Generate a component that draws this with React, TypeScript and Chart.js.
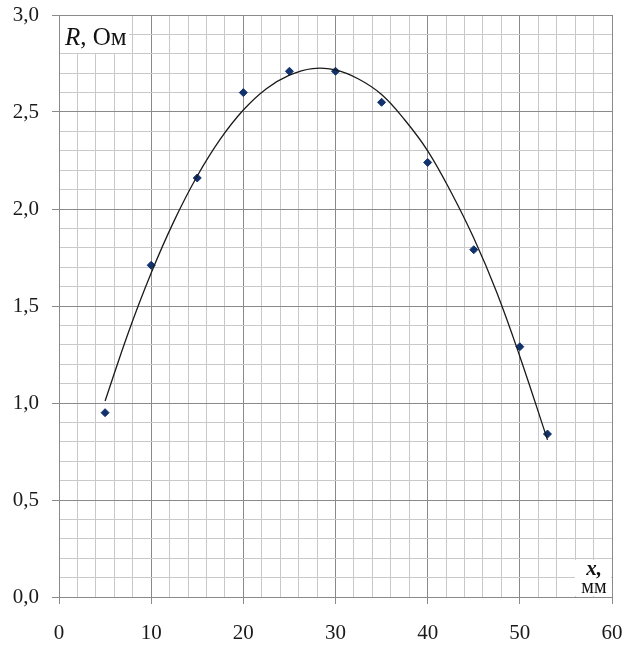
import React, { useEffect, useRef } from 'react';
import { Chart, registerables } from 'chart.js';

Chart.register(...registerables);

// measured points: position x (mm) and resistance R (Ohm)
const xValues = [5, 10, 15, 20, 25, 30, 35, 40, 45, 50, 53];
const rValues = [0.95, 1.71, 2.16, 2.6, 2.71, 2.71, 2.55, 2.24, 1.79, 1.29, 0.84];

// trend curve
const trendX = [5, 7.5, 10, 12.5, 15, 17.5, 20, 22.5, 25, 27.5, 30, 32.5, 35, 37.5, 40, 42.5, 45, 47.5, 50, 53];
const trendR = [1.01, 1.36, 1.67, 1.94, 2.17, 2.36, 2.51, 2.62, 2.69, 2.724, 2.717, 2.67, 2.59, 2.46, 2.3, 2.09, 1.85, 1.57, 1.24, 0.81];

const xMin = 0;
const xMax = 60;
const xStep = 2;
const xMajor = 10;
const yMin = 0;
const yMax = 3;
const yStep = 0.1;
const yMajor = 0.5;

const isMajor = (v: number, m: number) => Math.abs(v / m - Math.round(v / m)) < 1e-6;

const MINOR = '#c9c9c9';
const MAJOR = '#8a8a8a';
const FONT = '"Liberation Serif", "Times New Roman", serif';

const titlesPlugin = {
  id: 'axisTitles',
  beforeDatasetsDraw(chart: any) {
    const { ctx, chartArea: a } = chart;
    ctx.save();
    ctx.fillStyle = '#ffffff';
    ctx.fillRect(a.left + 1, a.top + 1, 69, 37);
    ctx.fillRect(a.right - 37, a.bottom - 37, 36, 36);

    ctx.fillStyle = '#111111';
    ctx.textBaseline = 'alphabetic';
    ctx.textAlign = 'left';
    ctx.font = `italic 25px ${FONT}`;
    const rx = a.left + 6;
    const ry = a.top + 30;
    ctx.fillText('R', rx, ry);
    const w = ctx.measureText('R').width;
    ctx.font = `25px ${FONT}`;
    ctx.fillText(', Ом', rx + w, ry);

    ctx.textAlign = 'center';
    const cx = a.right - 18;
    ctx.font = `italic bold 21px ${FONT}`;
    ctx.fillText('x,', cx, a.bottom - 22);
    ctx.font = `20px ${FONT}`;
    ctx.fillText('мм', cx, a.bottom - 4);
    ctx.restore();
  },
};

export default function App() {
  const ref = useRef<HTMLCanvasElement>(null);

  useEffect(() => {
    document.body.style.margin = '0';
    if (!ref.current) return;
    const chart = new Chart(ref.current, {
      type: 'scatter',
      data: {
        datasets: [
          {
            label: 'trend',
            data: trendX.map((x, i) => ({ x, y: trendR[i] })),
            showLine: true,
            borderColor: '#1a1a1a',
            borderWidth: 1.3,
            pointRadius: 0,
            tension: 0.4,
            fill: false,
          },
          {
            label: 'R',
            data: xValues.map((x, i) => ({ x, y: rValues[i] })),
            showLine: false,
            pointStyle: 'rectRot',
            pointRadius: 4,
            backgroundColor: '#12326e',
            borderColor: '#12326e',
            borderWidth: 1,
          },
        ],
      },
      options: {
        responsive: false,
        animation: false,
        devicePixelRatio: 1,
        layout: { padding: { top: 15, right: 12, left: 0, bottom: 0 } },
        plugins: { legend: { display: false }, tooltip: { enabled: false } },
        scales: {
          x: {
            type: 'linear',
            min: xMin,
            max: xMax,
            afterFit: (s: any) => {
              s.height = 50;
              s.paddingLeft = 0;
              s.paddingRight = 0;
            },
            ticks: {
              stepSize: xStep,
              autoSkip: false,
              maxTicksLimit: 100,
              maxRotation: 0,
              padding: 17,
              color: '#1a1a1a',
              font: { family: FONT, size: 21 },
              callback: (v: any) => (isMajor(Number(v), xMajor) ? String(Math.round(Number(v))) : ''),
            },
            grid: {
              color: (c: any) => (isMajor(c.tick.value, xMajor) ? MAJOR : MINOR),
              tickColor: (c: any) => (isMajor(c.tick.value, xMajor) ? MAJOR : 'rgba(0,0,0,0)'),
              tickLength: 7,
              lineWidth: 1,
            },
            border: { color: MAJOR, width: 1 },
          },
          y: {
            type: 'linear',
            min: yMin,
            max: yMax,
            afterFit: (s: any) => {
              s.width = 59;
              s.paddingTop = 0;
              s.paddingBottom = 0;
            },
            ticks: {
              stepSize: yStep,
              autoSkip: false,
              maxTicksLimit: 100,
              padding: 13,
              color: '#1a1a1a',
              font: { family: FONT, size: 21 },
              callback: (v: any) => (isMajor(Number(v), yMajor) ? Number(v).toFixed(1).replace('.', ',') : ''),
            },
            grid: {
              color: (c: any) => (isMajor(c.tick.value, yMajor) ? MAJOR : MINOR),
              tickColor: (c: any) => (isMajor(c.tick.value, yMajor) ? MAJOR : 'rgba(0,0,0,0)'),
              tickLength: 7,
              lineWidth: 1,
            },
            border: { color: MAJOR, width: 1 },
          },
        },
      },
      plugins: [titlesPlugin],
    });
    return () => chart.destroy();
  }, []);

  return (
    <div style={{ width: 624, height: 647 }}>
      <canvas ref={ref} width={624} height={647} />
    </div>
  );
}
